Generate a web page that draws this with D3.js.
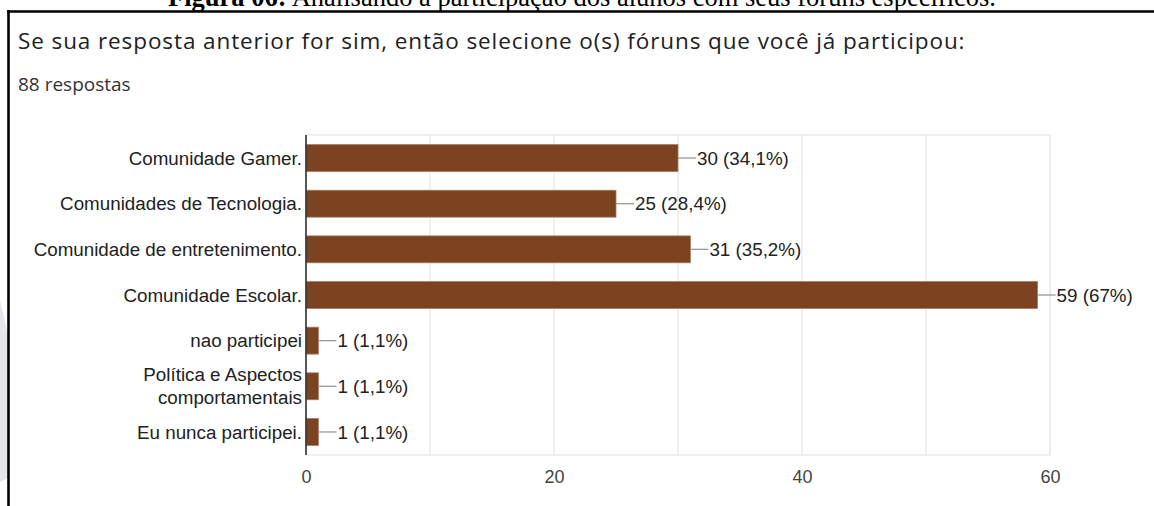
<!DOCTYPE html>
<html><head><meta charset="utf-8">
<script src="https://cdn.jsdelivr.net/npm/d3@7"></script>
<style>html,body{margin:0;padding:0;background:#fff;}svg{display:block;}</style>
</head><body>
<script>
const categories = ["Comunidade Gamer.","Comunidades de Tecnologia.","Comunidade de entretenimento.","Comunidade Escolar.","nao participei","Política e Aspectos\ncomportamentais","Eu nunca participei."];
const values = [30,25,31,59,1,1,1];
const percents = ["34,1%","28,4%","35,2%","67%","1,1%","1,1%","1,1%"];
const xTicks = [0,20,40,60];
const gridTicks = [10,20,30,40,50,60];
const caption = {bold:"Figura 06:", rest:" Analisando a participação dos alunos com seus fóruns específicos."};
const title = "Se sua resposta anterior for sim, então selecione o(s) fóruns que você já participou:";
const subtitle = "88 respostas";

(function(){
const W=1154,H=506;
const svg=d3.select("body").append("svg").attr("width",W).attr("height",H);

// faint watermark outside frame
svg.append("polygon").attr("points","0,300 8,335 8,478 0,482").attr("fill","#e6e5ee");

// caption (cut at top)
const cap=svg.append("text").attr("x",582).attr("y",6).attr("text-anchor","middle")
  .attr("font-family","Liberation Serif, Times New Roman, serif").attr("font-size",26.5).attr("fill","#000");
cap.append("tspan").attr("font-weight","bold").text(caption.bold);
cap.append("tspan").text(caption.rest);

// frame
svg.append("line").attr("x1",7).attr("x2",W).attr("y1",11.5).attr("y2",11.5).attr("stroke","#000").attr("stroke-width",2.6);
svg.append("line").attr("x1",8.5).attr("x2",8.5).attr("y1",10).attr("y2",H).attr("stroke","#000").attr("stroke-width",2.6);

svg.append("text").attr("x",18).attr("y",48.5).attr("font-family","Open Sans, sans-serif").attr("font-size",22.5)
  .attr("letter-spacing","0.9px").attr("fill","#202124").text(title);
svg.append("text").attr("x",18).attr("y",91).attr("font-family","Open Sans, sans-serif").attr("font-size",19)
  .attr("fill","#333").text(subtitle);

const pL=306,pR=1050,pT=135,pB=455;
const x=d3.scaleLinear().domain([0,60]).range([pL,pR]);
const y=d3.scaleBand().domain(categories).range([pT,pB]).paddingInner(0.41).paddingOuter(0.21);

const fontLab="Liberation Sans, Arial, sans-serif";

// plot border & grid
svg.append("rect").attr("x",pL).attr("y",pT).attr("width",pR-pL).attr("height",pB-pT)
  .attr("fill","none").attr("stroke","#ebebeb").attr("stroke-width",1.5);
svg.append("g").selectAll("line").data(gridTicks).join("line")
  .attr("x1",d=>x(d)).attr("x2",d=>x(d)).attr("y1",pT).attr("y2",pB)
  .attr("stroke","#ebebeb").attr("stroke-width",1.5);

// x axis labels
const xAxis=d3.axisBottom(x).tickValues(xTicks).tickSize(0).tickPadding(15).tickFormat(d3.format("d"));
const gx=svg.append("g").attr("transform",`translate(0,${pB})`).call(xAxis);
gx.select(".domain").remove();
gx.selectAll("text").attr("font-family",fontLab).attr("font-size",18).attr("fill","#444");

// bars
const data=categories.map((c,i)=>({c,v:values[i],p:percents[i]}));
svg.append("g").selectAll("rect").data(data).join("rect")
  .attr("x",x(0)).attr("y",d=>y(d.c)).attr("width",d=>x(d.v)-x(0)).attr("height",y.bandwidth())
  .attr("fill","#7b4320").attr("stroke","#a87c60").attr("stroke-width",0.8);

// leader lines & labels
svg.append("g").selectAll("line").data(data).join("line")
  .attr("x1",d=>x(d.v)).attr("x2",d=>x(d.v)+18).attr("y1",d=>y(d.c)+y.bandwidth()/2).attr("y2",d=>y(d.c)+y.bandwidth()/2)
  .attr("stroke","#999").attr("stroke-width",1.3);
svg.append("g").selectAll("text").data(data).join("text")
  .attr("x",d=>x(d.v)+19).attr("y",d=>y(d.c)+y.bandwidth()/2).attr("dy","0.35em")
  .attr("font-family",fontLab).attr("font-size",18.8).attr("fill","#222")
  .text(d=>`${d.v} (${d.p})`);

// category labels
const gy=svg.append("g");
data.forEach(d=>{
  const lines=d.c.split("\n");
  const cy=y(d.c)+y.bandwidth()/2;
  const t=gy.append("text").attr("x",pL-4).attr("text-anchor","end")
    .attr("font-family",fontLab).attr("font-size",18.8).attr("fill","#222");
  lines.forEach((ln,i)=>{
    t.append("tspan").attr("x",pL-4).attr("y",cy+(i-(lines.length-1)/2)*23).attr("dy","0.35em").text(ln);
  });
});

// axis line
svg.append("line").attr("x1",pL).attr("x2",pL).attr("y1",pT).attr("y2",pB)
  .attr("stroke","#333").attr("stroke-width",1.6);
})();
</script>
</body></html>
